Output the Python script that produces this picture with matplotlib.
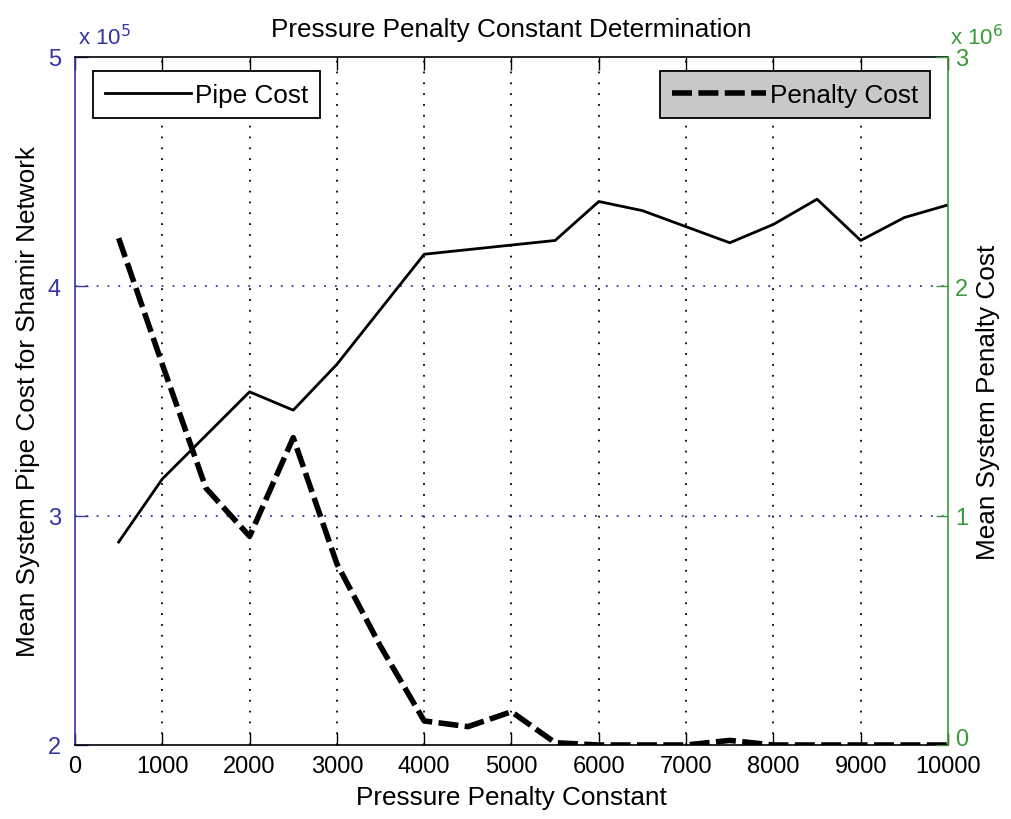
import numpy as np
import matplotlib
matplotlib.use("Agg")
import matplotlib.pyplot as plt
import matplotlib.transforms as mtransforms
from matplotlib.ticker import FuncFormatter

plt.rcParams['font.family'] = ['Liberation Sans', 'DejaVu Sans']
plt.rcParams['font.size'] = 17

# pressure penalty constant
penalty_const = [500, 1000, 1500, 2000, 2500, 3000, 3500, 4000, 4500, 5000,
                 5500, 6000, 6500, 7000, 7500, 8000, 8500, 9000, 9500, 10000]
# mean system pipe cost (Shamir network)
pipe_cost = [2.885e5, 3.16e5, 3.35e5, 3.54e5, 3.46e5, 3.66e5, 3.90e5, 4.14e5, 4.16e5, 4.18e5,
             4.20e5, 4.37e5, 4.33e5, 4.26e5, 4.19e5, 4.27e5, 4.38e5, 4.20e5, 4.30e5, 4.355e5]
# mean system penalty cost
penalty_cost = [2.21e6, 1.66e6, 1.12e6, 0.91e6, 1.34e6, 0.79e6, 0.43e6, 0.105e6, 0.08e6, 0.145e6,
                0.01e6, 0.0, 0.0, 0.0, 0.02e6, 0.0, 0.0, 0.0, 0.0, 0.0]

x_ticks = np.arange(0, 10001, 1000)
left_ticks = [2e5, 3e5, 4e5, 5e5]
right_ticks = [0, 1e6, 2e6, 3e6]

blue = '#3434a4'
green = '#3a9a3a'
label_fs = 18.8

fig = plt.figure(figsize=(10.12, 8.2), dpi=100)
ax1 = fig.add_axes([75 / 1012, 74 / 820, 873 / 1012, 688 / 820])
ax2 = ax1.twinx()

# pipe cost, left axis
ax1.plot(penalty_const, pipe_cost, color='black', lw=2.0, label='Pipe Cost')
ax1.set_xlim(0, 10000)
ax1.set_ylim(2e5, 5e5)
ax1.set_xticks(x_ticks)
ax1.set_yticks(left_ticks)
ax1.yaxis.set_major_formatter(FuncFormatter(lambda v, p: '%g' % (v / 1e5)))
ax1.tick_params(axis='x', direction='in', length=9, width=1, top=True, pad=7)
ax1.tick_params(axis='y', direction='in', length=9, width=1, colors=blue, right=False, pad=10)
ax1.spines['left'].set_color(blue)
ax1.spines['right'].set_visible(False)
for s in ax1.spines.values():
    s.set_linewidth(1.2)

ax1.grid(True, axis='x', color='black', linestyle=(0, (1, 5)), lw=1.3)
ax1.grid(True, axis='y', color=blue, linestyle=(0, (1, 5)), lw=1.3)
for gl in (ax1.get_xgridlines()[0], ax1.get_xgridlines()[-1],
           ax1.get_ygridlines()[0], ax1.get_ygridlines()[-1]):
    gl.set_visible(False)

# penalty cost, right axis
ax2.plot(penalty_const, penalty_cost, color='black', lw=4.0, dashes=(3.6, 1.15),
         dash_capstyle='butt', label='Penalty Cost')
ax2.set_ylim(0, 3e6)
ax2.set_yticks(right_ticks)
ax2.yaxis.set_major_formatter(FuncFormatter(lambda v, p: '%g' % (v / 1e6)))
ax2.tick_params(axis='y', direction='in', length=9, width=1, colors=green, pad=5)
ax2.spines['right'].set_color(green)
ax2.spines['right'].set_linewidth(1.2)
for side in ('left', 'top', 'bottom'):
    ax2.spines[side].set_visible(False)

# lift the right-hand "0" a little so it clears the 10000 label
lift = mtransforms.ScaledTranslation(0, 6 / 72, fig.dpi_scale_trans)
zero_lbl = ax2.get_yticklabels()[0]
zero_lbl.set_transform(zero_lbl.get_transform() + lift)

ax1.text(0.003, 1.012, r'x 10$^5$', transform=ax1.transAxes, color=blue,
         ha='left', va='bottom', fontsize=16)
ax2.text(1.002, 1.012, r'x 10$^6$', transform=ax2.transAxes, color=green,
         ha='left', va='bottom', fontsize=16)

ax1.set_title('Pressure Penalty Constant Determination', pad=15, fontsize=label_fs)
ax1.set_xlabel('Pressure Penalty Constant', labelpad=6, fontsize=label_fs)
ax1.set_ylabel('Mean System Pipe Cost for Shamir Network', labelpad=6, fontsize=label_fs)
ax2.set_ylabel('Mean System Penalty Cost', labelpad=6, fontsize=label_fs)

leg1 = ax1.legend(loc='upper left', bbox_to_anchor=(0.0206, 0.9797), borderaxespad=0,
                  fancybox=False, framealpha=1, edgecolor='black', handlelength=3.3,
                  handletextpad=0.15, borderpad=0.45, fontsize=label_fs)
leg1.get_frame().set_linewidth(1.3)
leg2 = ax2.legend(loc='upper right', bbox_to_anchor=(0.979, 0.9797), borderaxespad=0,
                  fancybox=False, framealpha=1, edgecolor='black', facecolor='#c8c8c8',
                  handlelength=3.6, handletextpad=0.15, borderpad=0.45, fontsize=label_fs)
leg2.get_frame().set_linewidth(1.3)

fig.savefig('out.png', dpi=100)
